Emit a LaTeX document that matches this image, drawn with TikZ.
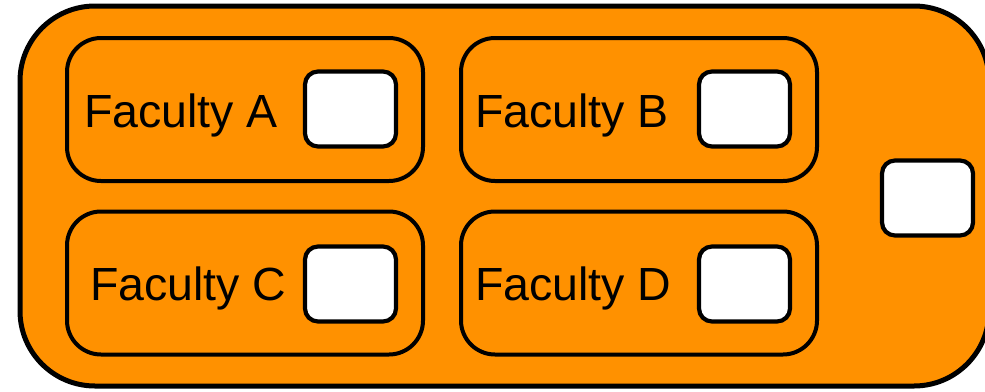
\documentclass[tikz,border=0pt]{standalone}
\usepackage{fontspec}
\setmainfont{Liberation Sans}
\definecolor{facorange}{RGB}{255,145,0}
\begin{document}
\begin{tikzpicture}[x=1pt,y=-1pt,
  outerbox/.style={draw=black, line width=5pt, fill=facorange, rounded corners=75pt, inner sep=0pt, outer sep=0pt},
  facbox/.style={draw=black, line width=4pt, rounded corners=34pt, minimum width=356pt, minimum height=143pt, inner sep=0pt, outer sep=0pt},
  slot/.style={draw=black, line width=4.2pt, fill=white, rounded corners=13pt, minimum width=91pt, minimum height=75pt, inner sep=0pt, outer sep=0pt},
  lbl/.style={anchor=base west, inner sep=0pt, font=\fontsize{46.5}{50}\selectfont}]
\useasboundingbox (0,0) rectangle (985,391);
\node[outerbox, minimum width=969pt, minimum height=380pt] (outer) at (504.5,196) {};
\node[facbox] (fa) at (245,109.5) {};
\node[facbox] (fb) at (639,109.5) {};
\node[facbox] (fc) at (245,283) {};
\node[facbox] (fd) at (639,283) {};
\node[slot] (sa) at (350.5,109) {};
\node[slot] (sb) at (744.5,109) {};
\node[slot] (sc) at (350.5,284) {};
\node[slot] (sd) at (744.5,284) {};
\node[slot] (se) at (927.5,198) {};
\node[lbl] (ta) at (84,127) {Faculty A};
\node[lbl] (tb) at (475,127) {Faculty B};
\node[lbl] (tc) at (90,300) {Faculty C};
\node[lbl] (td) at (475,300) {Faculty D};
\end{tikzpicture}
\end{document}
